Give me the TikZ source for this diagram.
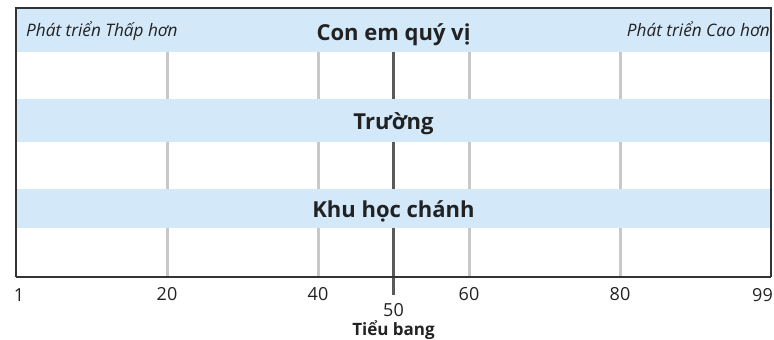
\documentclass[tikz,border=0pt]{standalone}
\usepackage{fontspec}
\setmainfont{Open Sans}
\definecolor{bandblue}{RGB}{211,233,250}
\definecolor{gridgray}{RGB}{200,200,200}
\definecolor{midgray}{RGB}{90,90,90}
\definecolor{framegray}{RGB}{51,51,51}
\definecolor{ink}{RGB}{34,34,34}
\tikzset{
  bandfill/.style={fill=bandblue},
  gridline/.style={draw=gridgray, line width=3pt},
  midline/.style={draw=midgray, line width=3pt},
  framestroke/.style={draw=framegray, line width=2pt},
  axisstroke/.style={draw=framegray, line width=2.5pt},
  bandtitle/.style={inner sep=0pt, anchor=base, text=ink, font=\fontsize{22}{26}\selectfont\bfseries},
  sidenote/.style={inner sep=0pt, text=ink, font=\fontsize{17.2}{20}\selectfont\itshape},
  ticklabel/.style={inner sep=0pt, anchor=base, text=ink, font=\fontsize{18}{22}\selectfont},
  statelabel/.style={inner sep=0pt, anchor=base, text=ink, font=\fontsize{17}{20}\selectfont\bfseries}
}
\begin{document}
\begin{tikzpicture}[x=1pt,y=-1pt]
\useasboundingbox (0,0) rectangle (774,340);
% grid lines
\foreach \v in {20,40,60,80} {
  \draw[gridline] ({16+\v*7.55},52) -- ({16+\v*7.55},277);
}
\draw[midline] (393.5,52) -- (393.5,295);
% bands
\fill[bandfill] (16,8) rectangle (771,52);
\fill[bandfill] (16,99) rectangle (771,142);
\fill[bandfill] (16,189) rectangle (771,228);
% frame
\draw[framestroke] (15.5,277) -- (15.5,8) -- (771,8) -- (771,277);
\draw[axisstroke] (15.5,277) -- (771,277);
% band titles
\node[bandtitle] (child) at (393.5,40) {Con em quý vị};
\node[bandtitle] (school) at (393.5,129.5) {Trường};
\node[bandtitle] (district) at (393.5,217.5) {Khu học chánh};
\node[sidenote, anchor=base west] (lower) at (26,36.5) {Phát triển Thấp hơn};
\node[sidenote, anchor=base east] (higher) at (770,36.5) {Phát triển Cao hơn};
% tick labels
\node[ticklabel] (t1) at (19,301) {1};
\node[ticklabel] (t20) at (167,300) {20};
\node[ticklabel] (t40) at (318,300) {40};
\node[ticklabel] (t60) at (469,300) {60};
\node[ticklabel] (t80) at (620,300) {80};
\node[ticklabel, anchor=base east] (t99) at (773,301) {99};
\node[ticklabel] (t50) at (393.5,316) {50};
\node[statelabel] (state) at (393.5,335) {Tiểu bang};
\end{tikzpicture}
\end{document}
